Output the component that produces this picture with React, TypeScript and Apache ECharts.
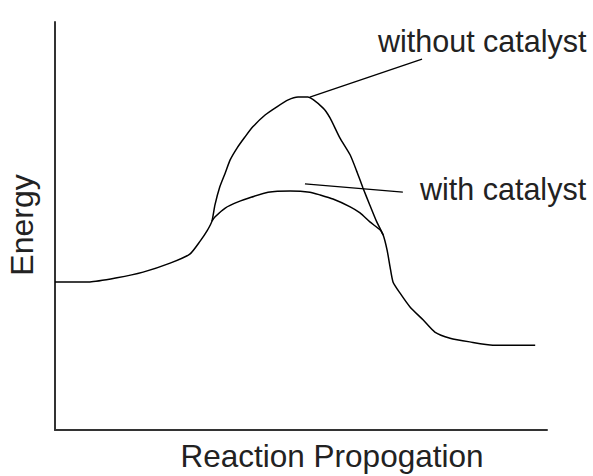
import React, { useEffect, useRef } from "react";
import * as echarts from "echarts";

// Reaction progress (0-100) and energy (0-100)
const withoutX = [0, 7.1, 12.6, 17.9, 23.4, 27.4, 29.5, 30.9, 31.9, 32.5, 33.5, 34.6, 35.6, 37.0, 38.6, 40.2, 42.7, 45.1, 47.4, 49.4, 51.4, 54.5, 55.9, 57.9, 60.0, 61.4, 62.6, 64.0, 65.4, 66.7, 67.5, 68.1, 68.7, 70.1, 72.2, 74.8, 77.2, 80.3, 84.3, 89.0, 97.6];
const withoutY = [36.3, 36.3, 37.3, 38.7, 40.9, 43.1, 46.3, 48.8, 51.2, 55.1, 59.6, 63.0, 66.2, 69.1, 71.8, 74.3, 77.2, 79.2, 80.9, 81.6, 81.6, 78.9, 76.5, 71.6, 67.4, 63.2, 59.3, 55.1, 51.0, 47.8, 44.1, 40.0, 36.3, 33.6, 30.1, 27.0, 24.0, 22.5, 21.6, 20.8, 20.8];

const withX = [31.9, 32.5, 34.6, 37.2, 40.0, 43.3, 47.8, 51.8, 53.9, 56.5, 60.0, 62.0, 64.0, 66.1, 66.7];
const withY = [51.2, 52.2, 54.4, 55.9, 57.1, 58.3, 58.6, 58.3, 57.6, 56.6, 54.7, 53.2, 51.0, 49.0, 47.8];

const leaderWithoutX = [51.8, 74.6];
const leaderWithoutY = [81.6, 90.9];
const leaderWithX = [50.8, 70.7];
const leaderWithY = [60.3, 58.3];

const labels = ["without catalyst", "with catalyst"];
const xTitle = "Reaction Propogation";
const yTitle = "Energy";

const zip = (xs: number[], ys: number[]) => xs.map((x, i) => [x, ys[i]]);

export default function App() {
  const ref = useRef<HTMLDivElement>(null);
  useEffect(() => {
    if (!ref.current) return;
    const chart = echarts.init(ref.current, null, { renderer: "svg" });
    const font = "Liberation Sans, Arial, sans-serif";
    const lineStyle = { color: "#000", width: 1.5 };
    const textStyle = (text: string, size: number) => ({
      text,
      fill: "#222",
      fontSize: size,
      fontFamily: font,
    });
    chart.setOption({
      animation: false,
      backgroundColor: "#fff",
      grid: { left: 55, right: 46, top: 22, bottom: 46 },
      xAxis: {
        type: "value",
        min: 0,
        max: 100,
        axisLine: { show: true, lineStyle: { color: "#333", width: 2 } },
        axisTick: { show: false },
        axisLabel: { show: false },
        splitLine: { show: false },
      },
      yAxis: {
        type: "value",
        min: 0,
        max: 100,
        axisLine: { show: true, lineStyle: { color: "#333", width: 2 } },
        axisTick: { show: false },
        axisLabel: { show: false },
        splitLine: { show: false },
      },
      series: [
        { name: labels[0], type: "line", data: zip(withoutX, withoutY), showSymbol: false, smooth: 0.2, lineStyle },
        { name: labels[1], type: "line", data: zip(withX, withY), showSymbol: false, smooth: 0.2, lineStyle },
        { type: "line", data: zip(leaderWithoutX, leaderWithoutY), showSymbol: false, lineStyle: { color: "#000", width: 1.3 } },
        { type: "line", data: zip(leaderWithX, leaderWithY), showSymbol: false, lineStyle: { color: "#000", width: 1.3 } },
      ],
      graphic: [
        { type: "text", x: 378, y: 41, style: { ...textStyle(labels[0], 30.5), align: "left", verticalAlign: "middle" } },
        { type: "text", x: 420, y: 189, style: { ...textStyle(labels[1], 30.5), align: "left", verticalAlign: "middle" } },
        { type: "text", x: 332, y: 456, style: { ...textStyle(xTitle, 31.5), align: "center", verticalAlign: "middle" } },
        { type: "text", x: 22, y: 225, rotation: Math.PI / 2, style: { ...textStyle(yTitle, 32), align: "center", verticalAlign: "middle" } },
      ],
    });
    return () => chart.dispose();
  }, []);
  return <div ref={ref} style={{ position: "absolute", left: 0, top: 0, width: 593, height: 476 }} />;
}
